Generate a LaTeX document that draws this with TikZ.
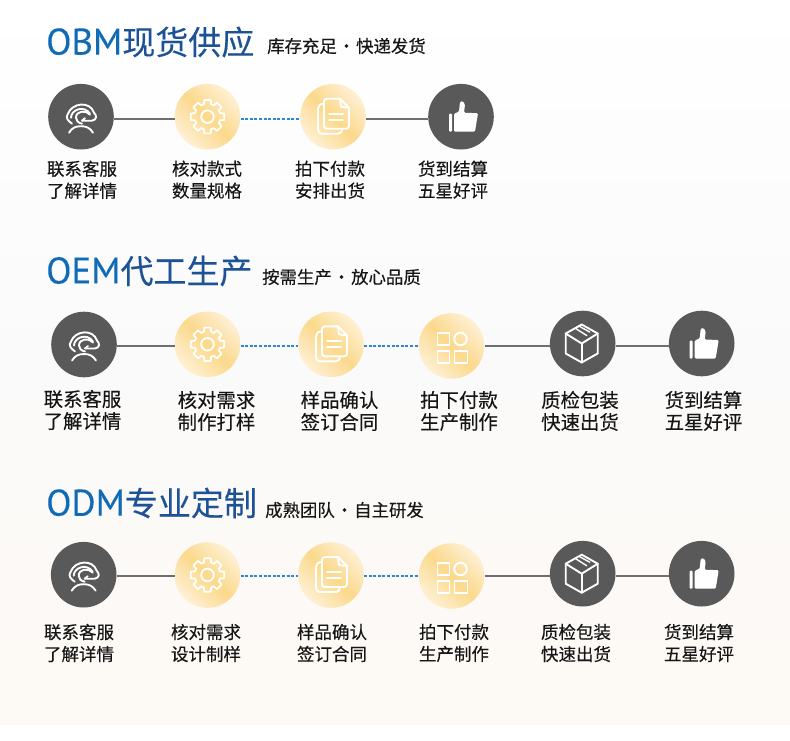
\documentclass[tikz,border=0pt]{standalone}
\usepackage{fontspec}
\setmainfont{Noto Sans CJK SC}[FakeBold=0.25]
\newfontfamily\latinf{PT Sans}[Scale=1.12,FakeBold=0.2]
\definecolor{tblue}{HTML}{0F6BB6}
\definecolor{tnavy}{HTML}{1D5296}
\definecolor{ink}{HTML}{161616}
\definecolor{disc}{HTML}{595959}
\definecolor{linkg}{HTML}{6E6E6E}
\definecolor{linkb}{HTML}{2F86D2}
\definecolor{goldA}{HTML}{FBD98C}
\definecolor{goldB}{HTML}{FEF0D4}
\definecolor{bgmid}{HTML}{FBFAFA}
\definecolor{bgbot}{HTML}{FDF9F4}
\newcommand{\sep}{\hspace{1pt}·\hspace{1pt}}
\tikzset{
  x=1pt,y=-1pt,
  darkdisc/.style={circle,fill=disc,minimum size=65.6pt,inner sep=0pt},
  golddisc/.style={circle,minimum size=65.6pt,inner sep=0pt,shading=axis,top color=goldB,bottom color=goldB,middle color=goldA,shading angle=-45},
  solidlink/.style={draw=linkg,line width=1.4pt},
  dashlink/.style={draw=linkb,line width=1.4pt,dash pattern=on 3pt off 1.6pt},
  titletext/.style={anchor=west,inner sep=0pt,font=\fontsize{33}{36}\selectfont},
  subtext/.style={anchor=west,inner sep=0pt,text=ink,font=\fontsize{17.4}{20}\selectfont},
  smalllabel/.style={align=center,inner sep=0pt,text=ink,font=\fontsize{17.5}{22}\selectfont},
  biglabel/.style={align=center,inner sep=0pt,text=ink,font=\fontsize{19.4}{22}\selectfont},
  iconline/.style={draw=white,line width=1.9pt,line join=round,line cap=round,fill=none},
  headicon/.pic={
    \draw[iconline] (-9,7) .. controls (-13,4) and (-16,1) .. (-13,-3) .. controls (-9,-14) and (9,-16) .. (13,-4) .. controls (16,-1) and (16,3) .. (11,4) -- (1,4);
    \draw[iconline] (-10,1) .. controls (-10,-7) and (3,-12) .. (9,-3);
    \draw[iconline] (9,-2) .. controls (5,-7) and (-5,-6) .. (-5,1) .. controls (-5,4) and (-3,6) .. (1,7);
    \draw[iconline] (1,4) -- (4,1.5);
    \draw[iconline] (-12,16) .. controls (-9,11) and (-5,9.5) .. (0,9.5) .. controls (5,9.5) and (9,11) .. (12,16);
  },
  gearicon/.pic={
    \draw[iconline,line width=1.8pt] (0,0) circle[radius=6.3];
    \foreach \a in {0,45,...,315}{
      \draw[iconline,line width=1.7pt] ({\a-16}:13) -- ({\a-11}:17) -- ({\a+11}:17) -- ({\a+16}:13) -- ({\a+29}:13);
    }
  },
  docicon/.pic={
    \draw[iconline] (-9,-15) .. controls (-9,-17) and (-8,-18) .. (-6,-18) -- (7,-18) -- (16,-9) -- (16,9) .. controls (16,11) and (15,12) .. (13,12) -- (-6,12) .. controls (-8,12) and (-9,11) .. (-9,9) -- cycle;
    \draw[iconline] (7,-18) -- (8,-10) -- (16,-9);
    \draw[iconline] (-9,-13) .. controls (-13,-13) and (-15,-11) .. (-15,-8) -- (-15,13) .. controls (-15,16) and (-13,17) .. (-11,17) -- (5,17) .. controls (8,17) and (9,15) .. (9,12);
    \draw[iconline] (-4,-3) -- (10,-3);
    \draw[iconline] (-4,3) -- (10,3);
  },
  gridicon/.pic={
    \draw[iconline,line cap=butt] (-14,-13) rectangle (-2,-1);
    \draw[iconline] (9,-7) circle[radius=6.3];
    \draw[iconline,line cap=butt] (-14,5) rectangle (-2,17);
    \draw[iconline,line cap=butt] (3,5) rectangle (16,17);
  },
  boxicon/.pic={
    \draw[iconline] (-1,-19) -- (15,-10) -- (15,10) -- (-1,19) -- (-17,10) -- (-17,-10) -- cycle;
    \draw[iconline] (-17,-10) -- (-1,0) -- (15,-10);
    \draw[iconline] (-1,0) -- (-1,19);
    \draw[iconline,line width=1.4pt] (-7,-15) -- (4,-8);
    \draw[iconline,line width=1.4pt] (-3,-17) -- (7,-11.5);
  },
  thumbicon/.pic={
    \fill[white,rounded corners=1pt] (-12,-3) -- (-9,-3) -- (-9,15) -- (-12,15) -- cycle;
    \fill[white,rounded corners=1.2pt] (-7,-3) -- (-2,-5) -- (-1,-15) -- (2,-15.5) -- (4,-12) -- (3,-4) -- (17,-3.5) -- (14,15) -- (-7,15) -- cycle;
  }
}
\begin{document}
\begin{tikzpicture}
\useasboundingbox (0,0) rectangle (790,740);
\fill[white] (0,0) rectangle (790,740);
\shade[top color=white,bottom color=bgbot,middle color=bgmid] (0,0) rectangle (790,724);

% --- row 1
\node[titletext] (t1) at (46,42) {{\latinf\color{tblue}OBM}\textcolor{tnavy}{现货供应}};
\node[subtext] (s1) at (267,46) {库存充足\sep 快递发货};
\coordinate (ra) at (0,119);
\node[darkdisc] (a1) at (81,116.7) {};
\node[golddisc] (a2) at (207.5,116.7) {};
\node[golddisc] (a3) at (333,116.7) {};
\node[darkdisc] (a4) at (461,116.7) {};
\path[solidlink] (a1.east |- ra) -- (a2.west |- ra);
\path[dashlink] (a2.east |- ra) -- (a3.west |- ra);
\path[solidlink] (a3.east |- ra) -- (a4.west |- ra);
\pic at (a1) {headicon};
\pic at (a2) {gearicon};
\pic at (a3) {docicon};
\pic at (a4) {thumbicon};
\node[smalllabel] (la1) at (82,179.7) {联系客服\\了解详情};
\node[smalllabel] (la2) at (207,179.7) {核对款式\\数量规格};
\node[smalllabel] (la3) at (330,179.7) {拍下付款\\安排出货};
\node[smalllabel] (la4) at (453,179.7) {货到结算\\五星好评};

% --- row 2
\node[titletext] (t2) at (46,271) {{\latinf\color{tblue}OEM}\textcolor{tnavy}{代工生产}};
\node[subtext] (s2) at (262,277) {按需生产\sep 放心品质};
\coordinate (rb) at (0,346);
\node[darkdisc] (b1) at (84,344.5) {};
\node[golddisc] (b2) at (207.5,344.3) {};
\node[golddisc] (b3) at (331,344.3) {};
\node[golddisc] (b4) at (451.5,346) {};
\node[darkdisc] (b5) at (582.7,343.5) {};
\node[darkdisc] (b6) at (701.7,343.5) {};
\path[solidlink] (b1.east |- rb) -- (b2.west |- rb);
\path[dashlink] (b2.east |- rb) -- (b3.west |- rb);
\path[dashlink] (b3.east |- rb) -- (b4.west |- rb);
\path[solidlink] (b4.east |- rb) -- (b5.west |- rb);
\path[solidlink] (b5.east |- rb) -- (b6.west |- rb);
\pic at (b1) {headicon};
\pic at (b2) {gearicon};
\pic at (b3) {docicon};
\pic at (b4) {gridicon};
\pic at (b5) {boxicon};
\pic at (b6) {thumbicon};
\node[biglabel] (lb1) at (82.5,410) {联系客服\\了解详情};
\node[biglabel] (lb2) at (216.5,411) {核对需求\\制作打样};
\node[biglabel] (lb3) at (339.5,411) {样品确认\\签订合同};
\node[biglabel] (lb4) at (459,411) {拍下付款\\生产制作};
\node[biglabel] (lb5) at (580,411) {质检包装\\快速出货};
\node[biglabel] (lb6) at (703.5,411) {货到结算\\五星好评};

% --- row 3
\node[titletext] (t3) at (46,503) {{\latinf\color{tblue}ODM}\textcolor{tnavy}{专业定制}};
\node[subtext] (s3) at (265,510) {成熟团队\sep 自主研发};
\coordinate (rc) at (0,576);
\node[darkdisc] (c1) at (83.7,574.7) {};
\node[golddisc] (c2) at (207.5,575) {};
\node[golddisc] (c3) at (331,575) {};
\node[golddisc] (c4) at (451.5,576) {};
\node[darkdisc] (c5) at (582.7,573.7) {};
\node[darkdisc] (c6) at (701.7,573.7) {};
\path[solidlink] (c1.east |- rc) -- (c2.west |- rc);
\path[dashlink] (c2.east |- rc) -- (c3.west |- rc);
\path[dashlink] (c3.east |- rc) -- (c4.west |- rc);
\path[solidlink] (c4.east |- rc) -- (c5.west |- rc);
\path[solidlink] (c5.east |- rc) -- (c6.west |- rc);
\pic at (c1) {headicon};
\pic at (c2) {gearicon};
\pic at (c3) {docicon};
\pic at (c4) {gridicon};
\pic at (c5) {boxicon};
\pic at (c6) {thumbicon};
\node[smalllabel] (lc1) at (79,643) {联系客服\\了解详情};
\node[smalllabel] (lc2) at (206,643) {核对需求\\设计制样};
\node[smalllabel] (lc3) at (332,643) {样品确认\\签订合同};
\node[smalllabel] (lc4) at (454,643) {拍下付款\\生产制作};
\node[smalllabel] (lc5) at (576,643) {质检包装\\快速出货};
\node[smalllabel] (lc6) at (699,643) {货到结算\\五星好评};
\end{tikzpicture}
\end{document}
